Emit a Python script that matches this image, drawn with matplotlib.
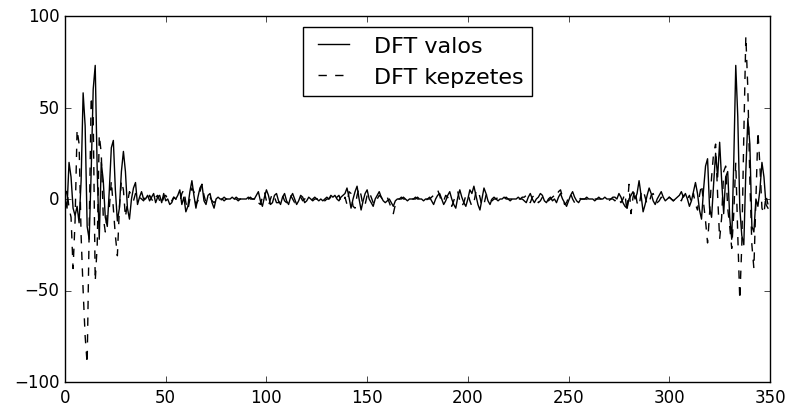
import numpy as np
import matplotlib
matplotlib.use("Agg")
import matplotlib.pyplot as plt

valos = [
    0, -5, 20, 12, -5, -9, -4, -13, 10, 58,          # 0
    40, -15, -22, 15, 60, 73, 15, -22, 20, 10,       # 10
    -10, -15, 5, 28, 32, 5, -12, -5, 15, 26,         # 20
    15, -5, -11, 0, 6, 9, -3, 1, 4, 0,               # 30
    0, 2, -1, 1, 3, -2, 1, 2, -2, 3,                 # 40
    -1, 0, -3, -2, 1, 0, 2, 5, -3, 1,                # 50
    -7, -4, 4, 10, 2, -5, 1, 6, 8, -1,               # 60
    -3, 2, 3, -2, -5, 0, 1, 0, 0, -1,                # 70
    0, 0, 0, 1, 0, 0, -1, 0, 0, 0,                   # 80
    0, 1, 0, 0, 0, 2, 4, -1, -4, 1,                  # 90
    5, 2, -3, -2, 2, 3, -1, -3, 1, 3,                # 100
    -1, -3, 1, 3, 0, -3, -1, 2, 1, -2,               # 110
    -1, 1, 0, -1, 0, 0, -1, 0, -1, 0,                # 120
    1, 0, 2, 1, 2, 0, -1, 1, 2, 3,                   # 130
    6, 1, -5, 0, 4, 7, 0, -6, -1, 3,                 # 140
    5, 0, -2, -4, 0, 2, 4, 1, -1, -2,                # 150
    -1, 0, -2, -4, -1, 0, 0, 1, 0, 0,                # 160
    -1, 0, 0, 0, 1, 0, 0, 0, -1, 0,                  # 170
    0, 1, -1, -3, 0, 2, 3, 0, -3, -1,                # 180
    2, 4, 0, -3, -5, 1, 5, 1, -2, -4,                # 190
    0, 5, 3, 7, 2, -3, -6, 0, 6, 3,                  # 200
    -1, -3, 0, 1, 0, -1, 0, 0, 1, 0,                 # 210
    0, -1, 0, 0, 0, 1, 0, 0, -1, -2,                 # 220
    1, 3, 0, -2, 0, 1, 3, 2, -1, -2,                 # 230
    0, 1, -1, 0, -2, 1, 3, 0, -2, -4,                # 240
    -1, 2, 4, 1, -1, -2, 0, 0, 0, 1,                 # 250
    0, 0, 0, -1, 0, 0, 0, 0, 1, 0,                   # 260
    0, 0, 1, 1, 0, 3, 1, -2, -4, -5,                 # 270
    0, 2, 4, 0, 3, 10, 2, -7, -3, 2,                 # 280
    6, 3, -1, -3, 0, 2, 4, 1, -1, 0,                 # 290
    1, 0, -1, 0, 1, 2, 4, 1, 3, 0,                   # 300
    -4, -1, 4, 9, 3, -6, -11, 5, 18, 22,             # 310
    -5, -10, 8, 25, 12, 31, 10, -8, 12, 15,          # 320
    -10, -22, 20, 73, 45, -5, -20, -25, 15, 44,      # 330
    30, -15, -18, 0, -4, 5, 20, 12, -3, -5,          # 340
]

# DFT imaginary part (kepzetes)
kepzetes = [
    0, 5, -5, -10, -38, -12, 38, 30, -20, -50,       # 0
    -75, -90, -15, 56, 45, -45, -25, 35, 25, -10,    # 10
    -18, -8, -5, 10, -5, -20, -31, -5, 10, 5,        # 20
    -10, -2, 4, 2, -1, 3, 0, 1, 0, -1,               # 30
    1, -1, 2, 0, -2, 1, 2, -1, -3, 1,                # 40
    2, 0, -2, -1, 1, 0, -1, -2, 3, 5,                # 50
    -2, -6, 0, 6, 4, -3, -1, 4, 8, 2,                # 60
    -2, 0, 1, -1, -2, 0, 0, -1, 0, 1,                # 70
    0, 0, -1, 0, 0, 1, 0, 0, 0, -1,                  # 80
    0, 0, 1, 0, 0, 1, -2, -3, 1, 4,                  # 90
    -1, -4, 0, 3, 1, -2, -2, 2, 2, -1,               # 100
    -2, 1, 2, 0, -2, 0, 1, 1, -1, 0,                 # 110
    1, 0, -1, 0, 1, 0, 0, 1, 0, -1,                  # 120
    0, 0, 1, -1, 0, 1, 2, -1, -2, 1,                 # 130
    -3, 4, 3, -4, -5, 2, 6, 2, -4, -3,               # 140
    2, 4, 1, -2, -3, 0, 2, 1, -1, 0,                 # 150
    1, -2, -5, -8, -3, 0, 0, 0, 1, 0,                # 160
    0, -1, 0, 0, 0, 1, 0, 0, 0, -1,                  # 170
    0, 0, 1, 2, 3, 5, 2, -2, -1, 2,                  # 180
    1, -2, -4, -1, 3, 4, -1, -4, -2, 2,              # 190
    3, -1, -4, -2, 4, 5, 1, -4, -3, 2,               # 200
    3, 0, -1, 0, 0, 1, 0, 0, 0, 1,                   # 210
    0, 0, 0, -1, 0, 0, 0, 1, 1, 2,                   # 220
    -1, -2, 1, 2, 0, -2, -1, 1, 2, 0,                # 230
    -1, 0, 1, 2, 1, 4, 5, 1, -3, -2,                 # 240
    1, 3, 0, -2, -1, 1, 0, 0, 0, 0,                  # 250
    -1, 0, 0, 0, 0, 1, 0, 0, 0, 0,                   # 260
    -1, 0, 0, -1, 1, 0, -2, 0, 3, -7,                # 270
    8, -8, 1, 5, -2, -4, 3, 5, 1, -3,                # 280
    -2, 2, 3, 0, -2, -1, 1, 0, -1, 0,                # 290
    1, 0, -1, 0, -1, 0, -1, 2, -1, 0,                # 300
    2, -2, 3, -3, -6, 2, 8, -2, -12, -24,            # 310
    -8, 12, 25, 30, 2, -22, -10, 15, 18, -5,         # 320
    -15, -27, -8, 20, -20, -55, -25, 35, 89, 60,     # 330
    10, -25, -38, 0, 37, 18, -5, -8, 2, -3,          # 340
]

plt.style.use('classic')
plt.rcParams['savefig.facecolor'] = 'white'

fig = plt.figure(figsize=(7.89, 4.10), dpi=100, facecolor='white')
ax = fig.add_axes([65 / 789, 1 - 383 / 410, 705 / 789, 366 / 410])

ax.plot(np.arange(len(valos)), valos, 'k-', linewidth=1, label='DFT valos')
ax.plot(np.arange(len(kepzetes)), kepzetes, 'k--', linewidth=1, label='DFT kepzetes')

ax.set_xlim(0, 350)
ax.set_ylim(-100, 100)
ax.set_xticks(range(0, 351, 50))
ax.set_yticks(range(-100, 101, 50))
ax.tick_params(labelsize=12)
ax.legend(loc='upper center', fontsize=16)

fig.savefig('out.png', dpi=100, facecolor='white')
